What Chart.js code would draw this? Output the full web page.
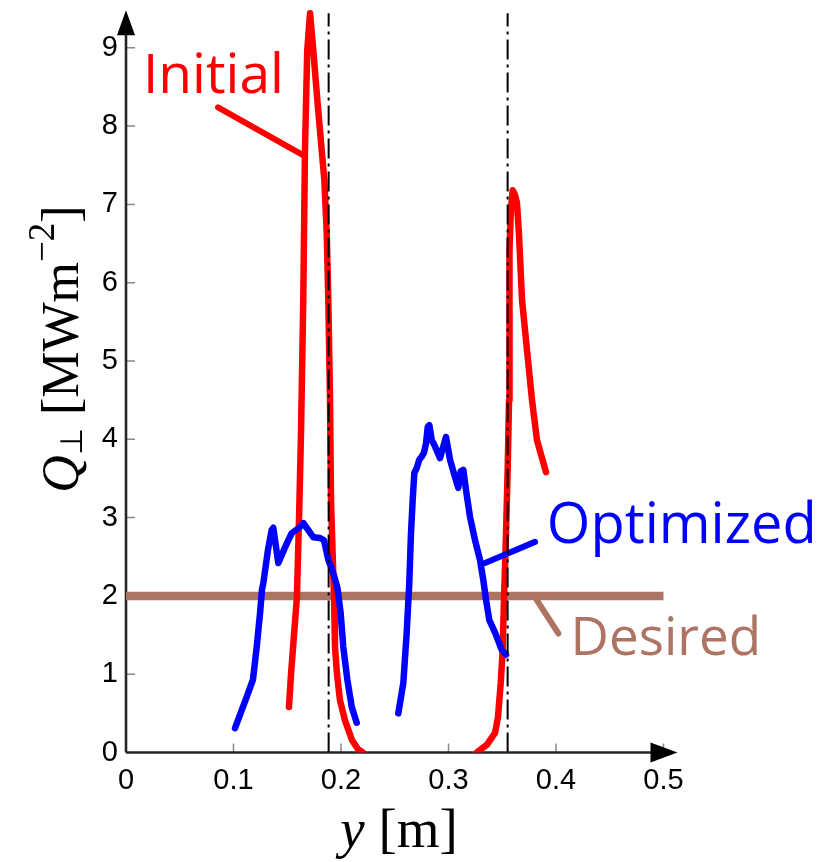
<!DOCTYPE html>
<html>
<head>
<meta charset="utf-8">
<title>Heat flux profiles</title>
<script src="https://cdn.jsdelivr.net/npm/chart.js@4.4.0/dist/chart.umd.min.js"></script>
<style>
  html, body { margin: 0; padding: 0; background: #fff; }
  #wrap { width: 825px; height: 862px; }
</style>
</head>
<body>
<div id="wrap"><canvas id="myChart" width="825" height="862"></canvas></div>
<script>
// tick labels
const xTicks = [0, 0.1, 0.2, 0.3, 0.4, 0.5];
const yTicks = [0, 1, 2, 3, 4, 5, 6, 7, 8, 9];

// Initial profile - inner strike point
const initialAX = [0.1516, 0.1535, 0.159, 0.161, 0.1628, 0.1649, 0.1665, 0.1686, 0.1712, 0.1742, 0.178, 0.182, 0.1845, 0.1867, 0.1882, 0.1898, 0.1907, 0.1926, 0.1935, 0.1944, 0.1963, 0.199, 0.2037, 0.2102, 0.2158, 0.2205];
const initialAY = [0.58, 1.0, 1.99, 3.01, 4.08, 5.78, 7.7, 8.97, 9.44, 8.97, 8.33, 7.7, 7.31, 6.64, 5.78, 4.5, 3.22, 2.37, 1.99, 1.35, 1.0, 0.67, 0.41, 0.16, 0.04, 0.0];

// Initial profile - outer strike point
const initialBX = [0.3262, 0.3358, 0.3433, 0.346, 0.3486, 0.3504, 0.3516, 0.3535, 0.3551, 0.3563, 0.3563, 0.3572, 0.358, 0.3597, 0.3619, 0.3637, 0.3656, 0.3684, 0.373, 0.3777, 0.3823, 0.3907];
const initialBY = [0.0, 0.1, 0.25, 0.45, 0.89, 1.31, 1.95, 2.8, 3.65, 4.5, 5.14, 6.42, 6.93, 7.18, 7.12, 7.02, 6.61, 5.78, 5.14, 4.5, 3.99, 3.58];

// Optimized profile - two segments
const optimizedAX = [0.1014, 0.1123, 0.1181, 0.1216, 0.1247, 0.1265, 0.1277, 0.1321, 0.1355, 0.137, 0.1417, 0.1479, 0.1541, 0.1619, 0.165, 0.1696, 0.1742, 0.1805, 0.1842, 0.1882, 0.1928, 0.1966, 0.1997, 0.2021, 0.2059, 0.21, 0.2146];
const optimizedAY = [0.31, 0.71, 0.93, 1.35, 1.78, 2.08, 2.16, 2.59, 2.84, 2.87, 2.42, 2.62, 2.8, 2.88, 2.93, 2.84, 2.75, 2.74, 2.71, 2.46, 2.29, 2.11, 1.78, 1.35, 0.93, 0.58, 0.38];

const optimizedBX = [0.2533, 0.258, 0.2611, 0.2635, 0.2651, 0.2667, 0.2682, 0.2704, 0.2728, 0.2751, 0.2772, 0.2791, 0.2807, 0.2822, 0.2844, 0.2874, 0.2921, 0.2952, 0.2977, 0.3014, 0.306, 0.3091, 0.3113, 0.3138, 0.3163, 0.32, 0.3247, 0.3293, 0.3324, 0.3349, 0.338, 0.3433, 0.3495, 0.3535];
const optimizedBY = [0.5, 0.89, 1.53, 2.16, 2.8, 3.23, 3.57, 3.63, 3.74, 3.78, 3.83, 3.95, 4.16, 4.18, 3.99, 3.91, 3.76, 3.91, 4.03, 3.74, 3.52, 3.38, 3.59, 3.61, 3.35, 3.01, 2.71, 2.46, 2.2, 1.95, 1.69, 1.53, 1.31, 1.25];

// Desired level and separatrix positions
const desiredX = [0, 0.5];
const desiredY = [2, 2];
const strikeX = [0.1885, 0.355];
const strikeTop = 9.44;

const RED = '#ff0000';
const BLUE = '#0000ff';
const BROWN = '#ad7464';

function zip(xs, ys) {
    return xs.map((x, i) => ({x: x, y: ys[i]}));
}

function lineSet(points, color, width, order, extra) {
    return Object.assign({
        data: points,
        showLine: true,
        borderColor: color,
        borderWidth: width,
        pointRadius: 0,
        borderCapStyle: 'round',
        borderJoinStyle: 'round',
        tension: 0,
        order: order
    }, extra || {});
}

// labels with their leader lines (data coords)
const notes = [
    {text: 'Initial', color: RED, size: 55, at: [0.0158, 8.42], lead: [[0.0856, 8.24], [0.1647, 7.63]]},
    {text: 'Optimized', color: BLUE, size: 56, at: [0.3915, 2.68], lead: [[0.334, 2.42], [0.3805, 2.69]]},
    {text: 'Desired', color: BROWN, size: 53, at: [0.4135, 1.245], lead: [[0.382, 1.95], [0.4022, 1.52]]}
];

const datasets = [];
strikeX.forEach(sx => {
    datasets.push(lineSet([{x: sx, y: 0}, {x: sx, y: strikeTop}], '#000', 2, 0,
        {borderDash: [20, 5, 3, 5], borderCapStyle: 'butt'}));
});
datasets.push(lineSet(zip(optimizedAX, optimizedAY), BLUE, 6.5, 1));
datasets.push(lineSet(zip(optimizedBX, optimizedBY), BLUE, 6.5, 1));
datasets.push(lineSet(zip(initialAX, initialAY), RED, 6.5, 2));
datasets.push(lineSet(zip(initialBX, initialBY), RED, 6.5, 2));
datasets.push(lineSet(zip(desiredX, desiredY), BROWN, 8.5, 3));
notes.forEach(n => {
    datasets.push(lineSet(n.lead.map(p => ({x: p[0], y: p[1]})), n.color, 6, 1));
});

// axis lines with arrows and inward ticks
const axesDecor = {
    id: 'axesDecor',
    beforeDatasetsDraw(chart) {
        const ctx = chart.ctx;
        const x = chart.scales.x, y = chart.scales.y;
        const x0 = x.getPixelForValue(0), y0 = y.getPixelForValue(0);
        const xTip = x.getPixelForValue(0.5) + 14;
        const yTip = chart.chartArea.top + 1.5;
        ctx.save();
        // ticks
        ctx.strokeStyle = '#8a8a8a';
        ctx.lineWidth = 1.5;
        ctx.beginPath();
        x.ticks.forEach(t => {
            if (t.value === 0) return;
            const px = x.getPixelForValue(t.value);
            ctx.moveTo(px, y0);
            ctx.lineTo(px, y0 - 9);
        });
        y.ticks.forEach(t => {
            if (t.value === 0) return;
            const py = y.getPixelForValue(t.value);
            ctx.moveTo(x0, py);
            ctx.lineTo(x0 + 9, py);
        });
        ctx.stroke();
        // axis lines
        ctx.strokeStyle = '#262626';
        ctx.lineWidth = 2.6;
        ctx.beginPath();
        ctx.moveTo(x0, y0);
        ctx.lineTo(xTip - 10, y0);
        ctx.moveTo(x0, y0);
        ctx.lineTo(x0, yTip + 10);
        ctx.stroke();
        // arrow heads
        ctx.fillStyle = '#000';
        ctx.beginPath();
        ctx.moveTo(xTip, y0);
        ctx.lineTo(xTip - 27, y0 - 10);
        ctx.lineTo(xTip - 27, y0 + 10);
        ctx.closePath();
        ctx.fill();
        ctx.beginPath();
        ctx.moveTo(x0, yTip);
        ctx.lineTo(x0 - 9, yTip + 25);
        ctx.lineTo(x0 + 9, yTip + 25);
        ctx.closePath();
        ctx.fill();
        ctx.restore();
    }
};

// annotations and axis titles
const textDecor = {
    id: 'textDecor',
    afterDraw(chart) {
        const ctx = chart.ctx;
        const x = chart.scales.x, y = chart.scales.y;
        ctx.save();
        ctx.textBaseline = 'alphabetic';
        ctx.textAlign = 'left';
        notes.forEach(n => {
            ctx.font = n.size + 'px "Open Sans"';
            ctx.fillStyle = n.color;
            ctx.fillText(n.text, x.getPixelForValue(n.at[0]), y.getPixelForValue(n.at[1]));
        });

        ctx.fillStyle = '#000';
        const serif = '"Liberation Serif", "DejaVu Serif", serif';

        // x title: y [m]
        const xParts = [
            {t: 'y', f: 'italic 55px ' + serif, dy: 0},
            {t: ' [m]', f: '55px ' + serif, dy: 0}
        ];
        drawParts(ctx, xParts, 399, 847, 0);

        // y title: Q⊥ [MWm−2]
        const yParts = [
            {t: 'Q', f: 'italic 52px ' + serif, dy: 0},
            {t: '\u22A5', f: '31px "DejaVu Sans"', dy: 4},
            {t: ' [MWm', f: '52px ' + serif, dy: 0},
            {t: '\u22122', f: '37px ' + serif, dy: -24},
            {t: ']', f: '52px ' + serif, dy: 0}
        ];
        drawParts(ctx, yParts, 78, 349, -Math.PI / 2);
        ctx.restore();
    }
};

function drawParts(ctx, parts, cx, cy, angle) {
    let total = 0;
    parts.forEach(p => { ctx.font = p.f; p.w = ctx.measureText(p.t).width; total += p.w; });
    ctx.save();
    ctx.translate(cx, cy);
    ctx.rotate(angle);
    let pos = -total / 2;
    parts.forEach(p => {
        ctx.font = p.f;
        ctx.fillText(p.t, pos, p.dy);
        pos += p.w;
    });
    ctx.restore();
}

const tickFont = {family: '"Liberation Sans", Arial, sans-serif', size: 29};

new Chart(document.getElementById('myChart').getContext('2d'), {
    type: 'scatter',
    data: {datasets: datasets},
    options: {
        responsive: false,
        animation: false,
        layout: {padding: {left: 0, right: 161.5, top: 8.65, bottom: 0}},
        plugins: {legend: {display: false}, tooltip: {enabled: false}},
        scales: {
            x: {
                type: 'linear', min: 0, max: 0.5,
                grid: {display: false, drawTicks: false},
                border: {display: false},
                ticks: {padding: 11, color: '#000', font: tickFont, maxRotation: 0, callback: v => String(v)},
                afterBuildTicks: s => { s.ticks = xTicks.map(v => ({value: v})); },
                afterFit: s => { s.height = 109.5; s.paddingLeft = 0; s.paddingRight = 0; }
            },
            y: {
                type: 'linear', min: 0, max: 9.5,
                grid: {display: false, drawTicks: false},
                border: {display: false},
                ticks: {padding: 8, color: '#000', font: tickFont, callback: v => String(v)},
                afterBuildTicks: s => { s.ticks = yTicks.map(v => ({value: v})); },
                afterFit: s => { s.width = 126; s.paddingTop = 0; s.paddingBottom = 0; }
            }
        }
    },
    plugins: [axesDecor, textDecor]
});
</script>
</body>
</html>
